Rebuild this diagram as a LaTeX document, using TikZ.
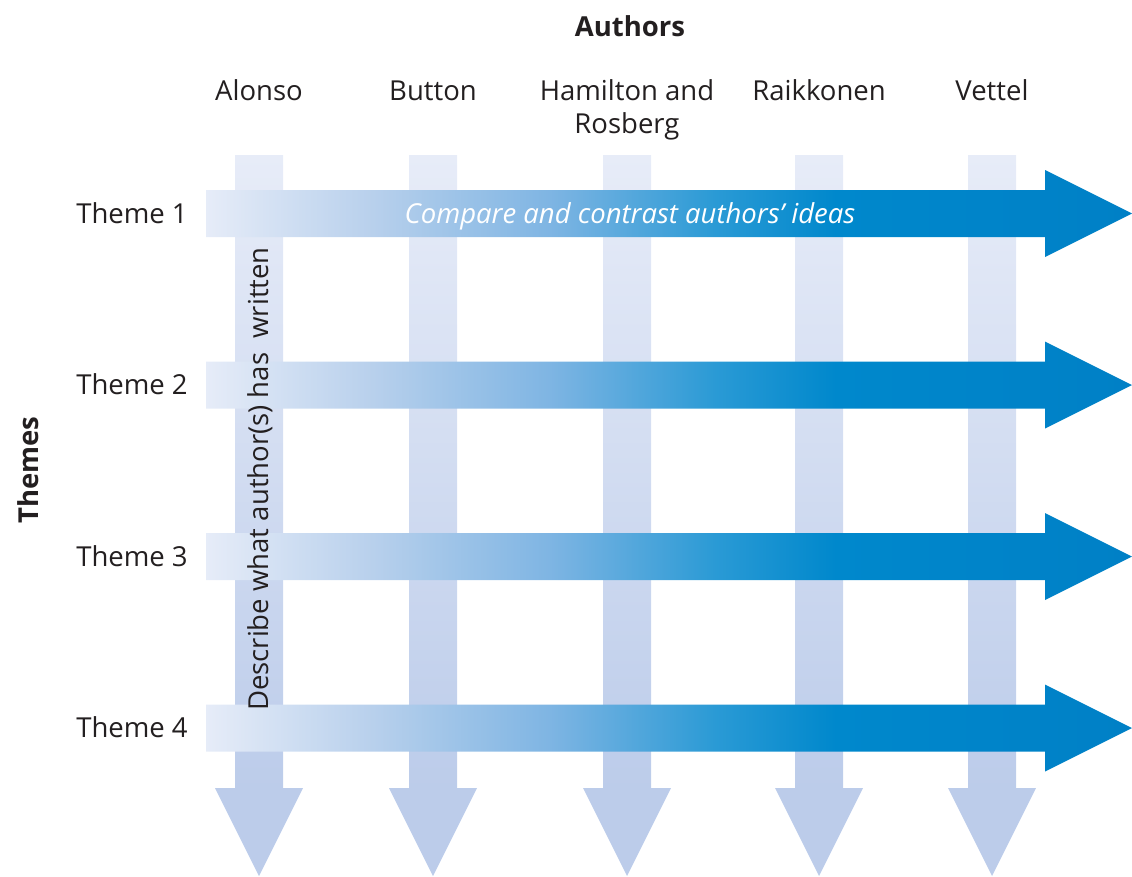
\documentclass[tikz,border=0pt]{standalone}
\usepackage{fontspec}
\setmainfont{Open Sans}
\definecolor{txt}{HTML}{231F20}
\definecolor{hA}{HTML}{E6ECF8}
\definecolor{hB}{HTML}{B8D0EC}
\definecolor{hC}{HTML}{7FB5E3}
\definecolor{hD}{HTML}{2A9AD5}
\definecolor{hE}{HTML}{0088CC}
\definecolor{hF}{HTML}{0080C6}
\definecolor{vA}{HTML}{E7ECF8}
\definecolor{vB}{HTML}{BCCCEA}
\pgfdeclarehorizontalshading{hshade}{100bp}{color(0bp)=(hA); color(25bp)=(hA); color(34bp)=(hB); color(43.5bp)=(hC); color(52.5bp)=(hD); color(59bp)=(hE); color(75bp)=(hF); color(100bp)=(hF)}
\pgfdeclareverticalshading{vshade}{100bp}{color(0bp)=(vB); color(31bp)=(vB); color(75bp)=(vA); color(100bp)=(vA)}
\begin{document}
\begin{tikzpicture}[x=1pt,y=-1pt,
  lbl/.style={font=\fontsize{27.5}{33}\selectfont, text=txt, inner sep=0pt, align=center, anchor=base},
  boldlbl/.style={lbl, font=\fontsize{27.5}{33}\selectfont\bfseries},
  colarrow/.style={shading=vshade},
  rowarrow/.style={shading=hshade}]
\useasboundingbox (0,0) rectangle (1132,876);
% vertical author arrows
\foreach \c in {259,433,627,819,992} {
  \path[colarrow] (\c-24,155) -- (\c+24,155) -- (\c+24,788) -- (\c+44,788)
     -- (\c,876) -- (\c-44,788) -- (\c-24,788) -- cycle;
}
% horizontal theme arrows
\foreach \r in {213.5,385,556.5,728} {
  \path[rowarrow] (206,\r-23.5) -- (1045,\r-23.5) -- (1045,\r-43.5) -- (1132,\r)
     -- (1045,\r+43.5) -- (1045,\r+23.5) -- (206,\r+23.5) -- cycle;
}
% headings
\node[boldlbl] (authors) at (630,36) {Authors};
\node[boldlbl, rotate=90] (themes) at (38,470) {Themes};
% author labels
\node[lbl] (alonso) at (259,100) {Alonso};
\node[lbl] (button) at (433,100) {Button};
\node[lbl] (hamilton) at (627,133) {Hamilton and\\Rosberg};
\node[lbl] (raikkonen) at (819,100) {Raikkonen};
\node[lbl] (vettel) at (992,100) {Vettel};
% theme labels
\node[lbl] (t1) at (132,223) {Theme 1};
\node[lbl] (t2) at (132,394.5) {Theme 2};
\node[lbl] (t3) at (132,566) {Theme 3};
\node[lbl] (t4) at (132,737.5) {Theme 4};
% arrow texts
\node[lbl, text=white, font=\fontsize{27.5}{33}\selectfont\itshape] (compare) at (630,223) {Compare and contrast authors’ ideas};
\node[lbl, rotate=90] (describe) at (268,479) {Describe what author(s) has\ \ written};
\end{tikzpicture}
\end{document}
